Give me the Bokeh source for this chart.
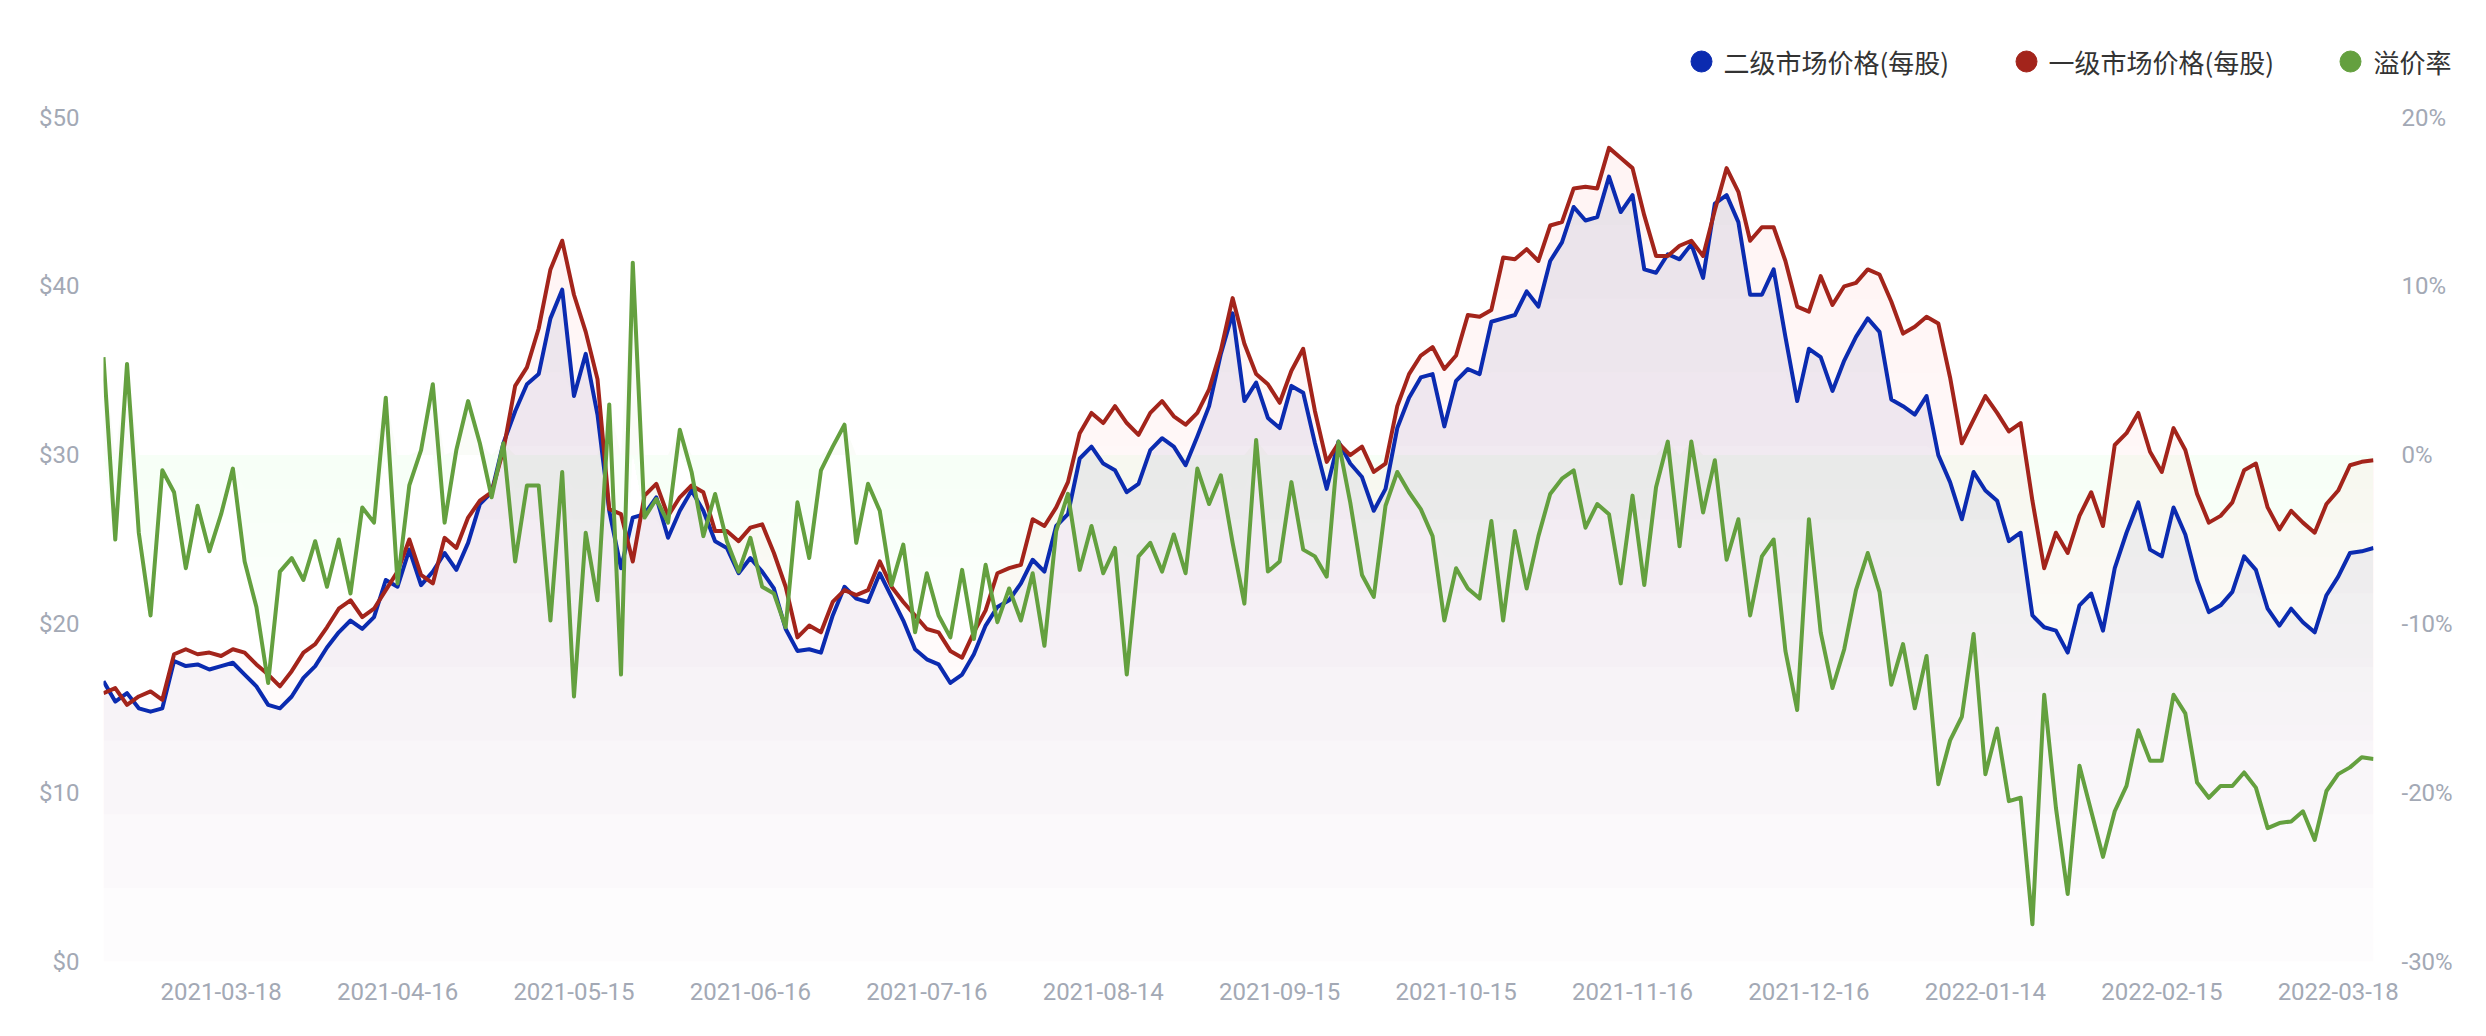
import numpy as np
from bokeh.core.properties import value
from bokeh.embed import file_html
from bokeh.layouts import column
from bokeh.models import FixedTicker, LinearAxis, PrintfTickFormatter, Range1d
from bokeh.plotting import figure
from bokeh.resources import INLINE

# x axis labels (every 15th point of the series)
tick_labels = ["2021-03-18", "2021-04-16", "2021-05-15", "2021-06-16", "2021-07-16",
               "2021-08-14", "2021-09-15", "2021-10-15", "2021-11-16", "2021-12-16",
               "2022-01-14", "2022-02-15", "2022-03-18"]
first_tick = 10
tick_step = 15

series_names = ["二级市场价格(每股)", "一级市场价格(每股)", "溢价率"]

# 二级市场价格(每股), $
secondary_price = [
    16.6, 15.4, 15.9, 15.0, 14.8, 15.0, 17.8, 17.5, 17.6, 17.3,
    17.5, 17.7, 17.0, 16.3, 15.2, 15.0, 15.7, 16.8, 17.5, 18.6,
    19.5, 20.2, 19.7, 20.4, 22.6, 22.2, 24.4, 22.3, 23.1, 24.2,
    23.2, 24.8, 27.1, 27.8, 30.7, 32.6, 34.2, 34.8, 38.1, 39.8,
    33.5, 36.0, 32.4, 26.7, 23.3, 26.3, 26.5, 27.5, 25.1, 26.7,
    27.9, 26.7, 24.9, 24.5, 23.0, 23.9, 23.1, 22.1, 19.7, 18.4,
    18.5, 18.3, 20.5, 22.2, 21.5, 21.3, 23.0, 21.6, 20.2, 18.5,
    17.9, 17.6, 16.5, 17.0, 18.2, 19.9, 21.0, 21.4, 22.4, 23.8,
    23.1, 25.8, 26.5, 29.8, 30.5, 29.5, 29.1, 27.8, 28.3, 30.3,
    31.0, 30.5, 29.4, 31.1, 32.9, 36.0, 38.4, 33.2, 34.3, 32.2,
    31.6, 34.1, 33.7, 30.7, 28.0, 30.8, 29.5, 28.7, 26.7, 28.0,
    31.6, 33.4, 34.6, 34.8, 31.7, 34.4, 35.1, 34.8, 37.9, 38.1,
    38.3, 39.7, 38.8, 41.5, 42.6, 44.7, 43.9, 44.1, 46.5, 44.4,
    45.4, 41.0, 40.8, 41.9, 41.6, 42.5, 40.5, 44.9, 45.4, 43.8,
    39.5, 39.5, 41.0, 37.0, 33.2, 36.3, 35.8, 33.8, 35.6, 37.0,
    38.1, 37.3, 33.3, 32.9, 32.4, 33.5, 30.0, 28.4, 26.2, 29.0,
    27.9, 27.3, 24.9, 25.4, 20.5, 19.8, 19.6, 18.3, 21.1, 21.8,
    19.6, 23.3, 25.4, 27.2, 24.4, 24.0, 26.9, 25.3, 22.6, 20.7,
    21.1, 21.9, 24.0, 23.2, 20.9, 19.9, 20.9, 20.1, 19.5, 21.7,
    22.8, 24.2, 24.3, 24.5,
]

# 一级市场价格(每股), $
primary_price = [
    15.9, 16.2, 15.2, 15.7, 16.0, 15.5, 18.2, 18.5, 18.2, 18.3,
    18.1, 18.5, 18.3, 17.6, 17.0, 16.3, 17.2, 18.3, 18.8, 19.8,
    20.9, 21.4, 20.4, 20.9, 22.0, 23.1, 25.0, 22.9, 22.4, 25.1,
    24.5, 26.3, 27.3, 27.8, 30.3, 34.1, 35.2, 37.5, 41.0, 42.7,
    39.5, 37.3, 34.5, 26.8, 26.5, 23.7, 27.6, 28.3, 26.4, 27.5,
    28.2, 27.8, 25.5, 25.5, 24.9, 25.7, 25.9, 24.2, 22.2, 19.2,
    19.9, 19.5, 21.3, 22.0, 21.7, 22.0, 23.7, 22.2, 21.3, 20.5,
    19.7, 19.5, 18.4, 18.0, 19.5, 20.8, 23.0, 23.3, 23.5, 26.2,
    25.8, 26.9, 28.4, 31.3, 32.5, 31.9, 32.9, 31.9, 31.2, 32.5,
    33.2, 32.3, 31.8, 32.5, 33.9, 36.2, 39.3, 36.6, 34.8, 34.2,
    33.1, 35.0, 36.3, 32.6, 29.6, 30.7, 30.0, 30.5, 29.0, 29.5,
    32.9, 34.8, 35.9, 36.4, 35.1, 35.9, 38.3, 38.2, 38.6, 41.7,
    41.6, 42.2, 41.5, 43.6, 43.8, 45.8, 45.9, 45.8, 48.2, 47.6,
    47.0, 44.2, 41.8, 41.8, 42.4, 42.7, 41.8, 44.5, 47.0, 45.6,
    42.7, 43.5, 43.5, 41.5, 38.8, 38.5, 40.6, 38.9, 40.0, 40.2,
    41.0, 40.7, 39.1, 37.2, 37.6, 38.2, 37.8, 34.6, 30.7, 32.1,
    33.5, 32.5, 31.4, 31.9, 27.3, 23.3, 25.4, 24.2, 26.4, 27.8,
    25.8, 30.6, 31.3, 32.5, 30.2, 29.0, 31.6, 30.3, 27.7, 26.0,
    26.4, 27.2, 29.1, 29.5, 26.9, 25.6, 26.7, 26.0, 25.4, 27.1,
    27.9, 29.4, 29.6, 29.7,
]

# 溢价率, %
premium_pct = [
    5.8, -5.0, 5.4, -4.6, -9.5, -0.9, -2.2, -6.7, -3.0, -5.7,
    -3.5, -0.8, -6.3, -9.0, -13.5, -6.9, -6.1, -7.4, -5.1, -7.8,
    -5.0, -8.2, -3.1, -4.0, 3.4, -7.6, -1.8, 0.3, 4.2, -4.0,
    0.3, 3.2, 0.7, -2.5, 0.7, -6.3, -1.8, -1.8, -9.8, -1.0,
    -14.3, -4.6, -8.6, 3.0, -13.0, 11.4, -3.7, -2.6, -4.0, 1.5,
    -1.0, -4.8, -2.3, -5.1, -6.9, -4.9, -7.8, -8.2, -10.2, -2.8,
    -6.1, -0.9, 0.5, 1.8, -5.2, -1.7, -3.3, -7.7, -5.3, -10.5,
    -7.0, -9.5, -10.8, -6.8, -10.9, -6.5, -9.9, -7.9, -9.8, -7.0,
    -11.3, -4.5, -2.3, -6.8, -4.2, -7.0, -5.5, -13.0, -6.0, -5.2,
    -6.9, -4.7, -7.0, -0.8, -2.9, -1.2, -5.2, -8.8, 0.9, -6.9,
    -6.3, -1.6, -5.6, -6.0, -7.2, 0.8, -2.8, -7.1, -8.4, -3.0,
    -1.0, -2.2, -3.2, -4.8, -9.8, -6.7, -7.9, -8.5, -3.9, -9.8,
    -4.5, -7.9, -4.8, -2.3, -1.4, -0.9, -4.3, -2.9, -3.5, -7.6,
    -2.4, -7.7, -1.9, 0.8, -5.4, 0.8, -3.4, -0.3, -6.2, -3.8,
    -9.5, -6.0, -5.0, -11.6, -15.1, -3.8, -10.5, -13.8, -11.5, -8.0,
    -5.8, -8.1, -13.6, -11.2, -15.0, -11.9, -19.5, -16.9, -15.5, -10.6,
    -18.9, -16.2, -20.5, -20.3, -27.8, -14.2, -20.9, -26.0, -18.4, -21.1,
    -23.8, -21.1, -19.6, -16.3, -18.1, -18.1, -14.2, -15.3, -19.4, -20.3,
    -19.6, -19.6, -18.8, -19.7, -22.1, -21.8, -21.7, -21.1, -22.8, -19.9,
    -18.9, -18.5, -17.9, -18.0,
]

BLUE = "#0b2bb0"
RED = "#a3241b"
GREEN = "#64a03f"
AXIS_TEXT = "#a3a9b5"

# layout in page pixels
W = 2478
HEAD_H = 102           # strip that carries the legend
MAIN_H = 926
LEFT, RIGHT, TOP, BOTTOM = 103, 105, 15, 67

sec = np.array(secondary_price)
pri = np.array(primary_price)
prem = np.array(premium_pct)
x = np.arange(len(sec))

p = figure(width=W, height=MAIN_H, output_backend="svg", toolbar_location=None,
           x_range=Range1d(0, len(x) - 1), y_range=Range1d(0, 50),
           min_border_left=LEFT, min_border_right=RIGHT,
           min_border_top=TOP, min_border_bottom=BOTTOM,
           outline_line_color=None, background_fill_color="white",
           border_fill_color="white")
p.extra_y_ranges = {"pct": Range1d(-30, 20)}
p.grid.visible = False

# soft gradient fills under the price lines (stacked translucent layers)
for t in np.linspace(0, 48, 12):
    p.varea(x=x, y1=np.minimum(pri, t), y2=pri, fill_color="#e3a9a9", fill_alpha=0.017)
for t in np.linspace(0, 48, 12):
    p.varea(x=x, y1=np.minimum(sec, t), y2=sec, fill_color="#c9c6e3", fill_alpha=0.045)

# pale band of the premium area below 0%
for d in np.linspace(2, 16, 8):
    p.varea(x=x, y1=np.maximum(np.minimum(prem, 0), -d), y2=0,
            fill_color="#9cc87e", fill_alpha=0.009, y_range_name="pct")
p.varea(x=x, y1=0, y2=np.maximum(prem, 0), fill_color="#9cc87e", fill_alpha=0.05,
        y_range_name="pct")

p.line(x, sec, line_color=BLUE, line_width=4, line_join="round")
p.line(x, pri, line_color=RED, line_width=4, line_join="round")
p.line(x, prem, line_color=GREEN, line_width=4, line_join="round", y_range_name="pct")

# axes
right = LinearAxis(y_range_name="pct")
p.add_layout(right, "right")
p.yaxis[0].ticker = FixedTicker(ticks=[0, 10, 20, 30, 40, 50])
p.yaxis[0].formatter = PrintfTickFormatter(format="$%d")
right.ticker = FixedTicker(ticks=[-30, -20, -10, 0, 10, 20])
right.formatter = PrintfTickFormatter(format="%d%%")
ticks = [first_tick + k * tick_step for k in range(len(tick_labels))]
p.xaxis.ticker = FixedTicker(ticks=ticks)
p.xaxis.major_label_overrides = {t: lab for t, lab in zip(ticks, tick_labels)}

for ax in [p.xaxis[0], p.yaxis[0], right]:
    ax.axis_line_color = None
    ax.major_tick_line_color = None
    ax.minor_tick_line_color = None
    ax.major_label_text_color = AXIS_TEXT
    ax.major_label_text_font = "Roboto"
    ax.major_label_text_font_size = "24px"
p.yaxis[0].major_label_standoff = 18
right.major_label_standoff = 22
p.xaxis.major_label_standoff = 15

# legend strip on top (pixel coordinates, y measured from the top)
head = figure(width=W, height=HEAD_H, output_backend="svg", toolbar_location=None,
              x_range=Range1d(0, W), y_range=Range1d(HEAD_H, 0),
              min_border=0, min_border_left=0, min_border_right=0,
              outline_line_color=None, x_axis_location=None,
              y_axis_location=None, background_fill_color="white",
              border_fill_color="white")
head.grid.visible = False
for fig in (head, p):
    if "frame_align" in fig.properties():
        fig.frame_align = False

legend_dot_x = [1701, 2026, 2350]
legend_text_x = [1723, 2048, 2373]
legend_y = 61
head.scatter(legend_dot_x, [legend_y] * 3, size=21, marker="circle",
             color=[BLUE, RED, GREEN])
head.text(legend_text_x, [legend_y] * 3, text=series_names,
          text_font=value("Noto Sans CJK SC"), text_font_size="26px",
          text_color="#333333", text_baseline="middle", text_align="left")

layout = column(head, p, spacing=0)

with open("out.html", "w", encoding="utf-8") as f:
    f.write(file_html(layout, INLINE))
